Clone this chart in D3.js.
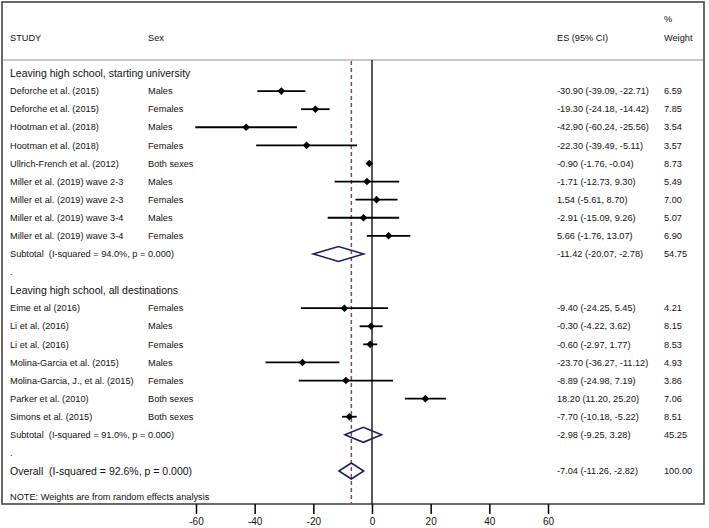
<!DOCTYPE html>
<html><head><meta charset="utf-8">
<script src="https://cdn.jsdelivr.net/npm/d3@7"></script>
<style>body{margin:0;background:#fff}svg{display:block}text{font-family:"Liberation Sans",Arial,sans-serif;fill:#111;white-space:pre}</style>
</head><body><svg id="c" width="709" height="528"></svg>
<script>
// ---- data ----
const group1Title = "Leaving high school, starting university";
const group1Studies = ["Deforche et al. (2015)","Deforche et al. (2015)","Hootman et al. (2018)","Hootman et al. (2018)","Ullrich-French et al. (2012)","Miller et al. (2019) wave 2-3","Miller et al. (2019) wave 2-3","Miller et al. (2019) wave 3-4","Miller et al. (2019) wave 3-4"];
const group1Sex = ["Males","Females","Males","Females","Both sexes","Males","Females","Males","Females"];
const group1ES = [-30.90,-19.30,-42.90,-22.30,-0.90,-1.71,1.54,-2.91,5.66];
const group1Lo = [-39.09,-24.18,-60.24,-39.49,-1.76,-12.73,-5.61,-15.09,-1.76];
const group1Hi = [-22.71,-14.42,-25.56,-5.11,-0.04,9.30,8.70,9.26,13.07];
const group1W = ["6.59","7.85","3.54","3.57","8.73","5.49","7.00","5.07","6.90"];
const group1Sub = {label:"Subtotal  (I-squared = 94.0%, p = 0.000)", es:-11.42, lo:-20.07, hi:-2.78, w:"54.75"};

const group2Title = "Leaving high school, all destinations";
const group2Studies = ["Eime et al (2016)","Li et al. (2016)","Li et al. (2016)","Molina-Garcia et al. (2015)","Molina-Garcia, J., et al. (2015)","Parker et al. (2010)","Simons et al. (2015)"];
const group2Sex = ["Females","Males","Females","Males","Females","Both sexes","Both sexes"];
const group2ES = [-9.40,-0.30,-0.60,-23.70,-8.89,18.20,-7.70];
const group2Lo = [-24.25,-4.22,-2.97,-36.27,-24.98,11.20,-10.18];
const group2Hi = [5.45,3.62,1.77,-11.12,7.19,25.20,-5.22];
const group2W = ["4.21","8.15","8.53","4.93","3.86","7.06","8.51"];
const group2Sub = {label:"Subtotal  (I-squared = 91.0%, p = 0.000)", es:-2.98, lo:-9.25, hi:3.28, w:"45.25"};

const overall = {label:"Overall  (I-squared = 92.6%, p = 0.000)", es:-7.04, lo:-11.26, hi:-2.82, w:"100.00"};
const xTicks = [-60,-40,-20,0,20,40,60];
const note = "NOTE: Weights are from random effects analysis";

// ---- build rows ----
const rows = [];
rows.push({type:"group", label:group1Title});
group1Studies.forEach((s,i)=>rows.push({type:"study",label:s,sex:group1Sex[i],es:group1ES[i],lo:group1Lo[i],hi:group1Hi[i],w:group1W[i]}));
rows.push(Object.assign({type:"sub"},group1Sub));
rows.push({type:"dot", label:"."});
rows.push({type:"group", label:group2Title});
group2Studies.forEach((s,i)=>rows.push({type:"study",label:s,sex:group2Sex[i],es:group2ES[i],lo:group2Lo[i],hi:group2Hi[i],w:group2W[i]}));
rows.push(Object.assign({type:"sub"},group2Sub));
rows.push({type:"dot", label:"."});
rows.push(Object.assign({type:"overall"},overall));

const svg = d3.select("#c");
const x = d3.scaleLinear().domain([-60,60]).range([196,548]);
const y = d3.scaleLinear().domain([0,22]).range([73,471]);
const loc = d3.formatLocale({decimal:".", thousands:",", grouping:[3], currency:["",""], minus:"-"});
const fmt = loc.format(".2f");
const fmtTick = loc.format("d");
const ciText = d => `${fmt(d.es)} (${fmt(d.lo)}, ${fmt(d.hi)})`;

const frameL=2, frameR=704, frameT=2, frameB=504, sepY=60;
const colStudy=10, colSex=148, colES=557, colW=664;
const navy="#1b1b66";
const fs="9.2px", fsBig="10.5px";

// frame
svg.append("rect").attr("x",frameL).attr("y",frameT).attr("width",frameR-frameL).attr("height",frameB-frameT)
  .attr("fill","none").attr("stroke","#444").attr("stroke-width",1.6);
svg.append("line").attr("x1",frameL+1).attr("x2",frameR-1).attr("y1",sepY).attr("y2",sepY)
  .attr("stroke","#c8c8c8").attr("stroke-width",2);

// headers
const hdr = svg.append("g").attr("font-size",fs);
hdr.append("text").attr("x",colStudy).attr("y",38).attr("dy","0.35em").text("STUDY");
hdr.append("text").attr("x",colSex).attr("y",38).attr("dy","0.35em").text("Sex");
hdr.append("text").attr("x",colES).attr("y",38).attr("dy","0.35em").text("ES (95% CI)");
hdr.append("text").attr("x",colW).attr("y",19).attr("dy","0.35em").text("%");
hdr.append("text").attr("x",colW).attr("y",38).attr("dy","0.35em").text("Weight");

// reference lines
svg.append("line").attr("x1",x(0)).attr("x2",x(0)).attr("y1",sepY).attr("y2",frameB)
  .attr("stroke","#000").attr("stroke-width",1.3);
svg.append("line").attr("x1",x(overall.es)).attr("x2",x(overall.es)).attr("y1",sepY+1).attr("y2",frameB)
  .attr("stroke","#8b4a4a").attr("stroke-width",1.5).attr("stroke-dasharray","4,3");

// rows
const g = svg.append("g");
const txt = (xx,yy,size,s)=>g.append("text").attr("x",xx).attr("y",yy).attr("dy","0.35em")
  .attr("font-size",size).attr("xml:space","preserve").text(s);
rows.forEach((d,i)=>{
  const yy = y(i);
  if(d.type==="group"){
    txt(colStudy,yy,fsBig,d.label);
  } else if(d.type==="dot"){
    txt(colStudy,yy,"9px",d.label);
  } else if(d.type==="study"){
    txt(colStudy,yy,fs,d.label);
    txt(colSex,yy,fs,d.sex);
    g.append("line").attr("x1",x(d.lo)).attr("x2",x(d.hi)).attr("y1",yy).attr("y2",yy)
      .attr("stroke","#000").attr("stroke-width",1.8);
    const cx=x(d.es), s=3.8;
    g.append("path").attr("d",`M${cx-s},${yy}L${cx},${yy-s}L${cx+s},${yy}L${cx},${yy+s}Z`).attr("fill","#000");
    txt(colES,yy,fs,ciText(d));
    txt(colW,yy,fs,d.w);
  } else {
    const big = d.type==="overall";
    txt(colStudy,yy,big?fsBig:fs,d.label);
    const h = big?8:7.5;
    g.append("path").attr("d",`M${x(d.lo)},${yy}L${x(d.es)},${yy-h}L${x(d.hi)},${yy}L${x(d.es)},${yy+h}Z`)
      .attr("fill","none").attr("stroke",navy).attr("stroke-width",1.5);
    txt(colES,yy,fs,ciText(d));
    txt(colW,yy,fs,d.w);
  }
});

// note
svg.append("text").attr("x",colStudy).attr("y",497).attr("dy","0.35em").attr("font-size",fs).text(note);

// axis
const ax = svg.append("g").attr("transform",`translate(0,${frameB})`)
  .call(d3.axisBottom(x).tickValues(xTicks).tickSize(10).tickPadding(4).tickFormat(fmtTick));
ax.select(".domain").remove();
ax.selectAll(".tick line").attr("stroke","#000").attr("stroke-width",1.5);
ax.selectAll(".tick text").attr("font-size","10px").attr("font-family","Liberation Sans, Arial, sans-serif").attr("fill","#111");
</script></body></html>
